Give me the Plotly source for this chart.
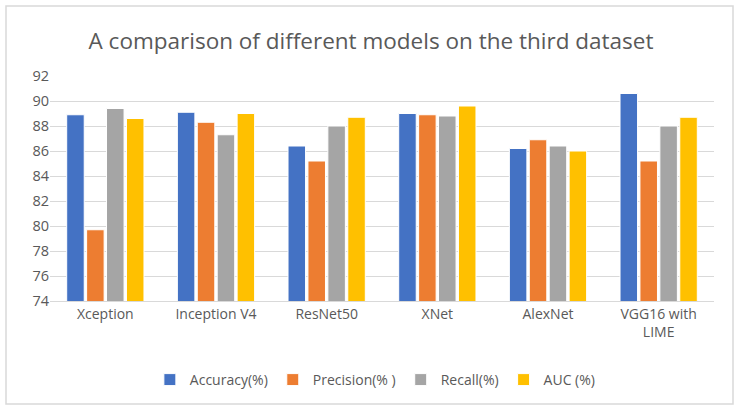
import plotly.graph_objects as go

categories = ["Xception", "Inception V4", "ResNet50", "XNet", "AlexNet", "VGG16 with<br>LIME"]
accuracy = [88.9, 89.1, 86.4, 89.0, 86.2, 90.6]
precision = [79.7, 88.3, 85.2, 88.9, 86.9, 85.2]
recall = [89.4, 87.3, 88.0, 88.8, 86.4, 88.0]
auc = [88.6, 89.0, 88.7, 89.6, 86.0, 88.7]

series = [
    ("Accuracy(%)", accuracy, "#4472C4"),
    ("Precision(% )", precision, "#ED7D31"),
    ("Recall(%)", recall, "#A5A5A5"),
    ("AUC (%)", auc, "#FFC000"),
]

fig = go.Figure()
for name, vals, color in series:
    fig.add_trace(go.Bar(
        x=categories, y=vals, name=name,
        marker=dict(color=color, line=dict(color="white", width=1)),
    ))

W, H = 742, 415
L, R, T, B = 50, 28, 76, 114
pw, ph = W - L - R, H - T - B

def px_x(p):
    return (p - L) / pw

def px_y(p):
    return (H - B - p) / ph

fig.update_layout(
    width=W, height=H,
    margin=dict(l=L, r=R, t=T, b=B),
    paper_bgcolor="white", plot_bgcolor="white",
    font=dict(family="Open Sans", color="#595959", size=14),
    title=dict(text="A comparison of different models on the third dataset",
               x=0.5, xanchor="center", y=1 - 41 / H, yanchor="middle",
               font=dict(size=22.5, color="#595959", family="Open Sans")),
    barmode="group", bargap=0.28, bargroupgap=0.12,
    xaxis=dict(showgrid=False, showline=True, linecolor="#D9D9D9", linewidth=1,
               ticks="", tickfont=dict(size=14, color="#595959")),
    yaxis=dict(range=[74, 92], dtick=2, showgrid=True, gridcolor="#D9D9D9",
               gridwidth=1, zeroline=False, showline=False, ticks="",
               tickfont=dict(size=14.5, color="#595959")),
    legend=dict(orientation="h", x=0.49, xanchor="center", y=px_y(380), yanchor="middle",
                font=dict(size=14, color="#595959"), itemwidth=30),
    showlegend=True,
)

fig.add_shape(type="rect", xref="paper", yref="paper",
              x0=px_x(6), x1=px_x(733), y0=px_y(404), y1=px_y(6),
              line=dict(color="#D9D9D9", width=1.5), fillcolor="rgba(0,0,0,0)", layer="below")

fig.write_html("out.html", config={"displayModeBar": False},
               post_script="document.body.style.margin='0';")
